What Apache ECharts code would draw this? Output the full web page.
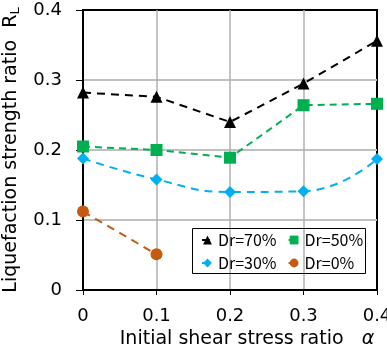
<!DOCTYPE html>
<html>
<head>
<meta charset="UTF-8">
<title>Liquefaction strength ratio</title>
<script src="https://cdn.jsdelivr.net/npm/echarts@6/dist/echarts.min.js"></script>
</head>
<body style="margin:0">
<div id="main" style="width:387px;height:358px;"></div>
<script>
// initial shear stress ratio alpha
var alphaVals = [0, 0.1, 0.2, 0.3, 0.4];
var alphaVals0 = [0, 0.1];

// liquefaction strength ratio RL for each relative density
var dr70 = [0.282, 0.276, 0.240, 0.295, 0.356];
var dr50 = [0.205, 0.200, 0.189, 0.264, 0.266];
var dr30 = [0.188, 0.158, 0.140, 0.141, 0.187];
var dr0 = [0.112, 0.051];

var seriesNames = ['Dr=70%', 'Dr=50%', 'Dr=30%', 'Dr=0%'];

function pairs(xs, ys) {
    return xs.map(function (x, i) { return [x, ys[i]]; });
}

// two legend rows, same look
function legendRow(top, names) {
    return {
        left: 201, top: top,
        padding: 0,
        itemGap: 11,
        itemWidth: 11, itemHeight: 11,
        textStyle: { fontFamily: 'Noto Sans CJK JP', fontSize: 16, color: '#000' },
        data: names
    };
}

var myChart = echarts.init(document.getElementById('main'));

var option = {
    animation: false,
    grid: {
        left: 83, right: 10, top: 10, bottom: 68,
        outerBoundsMode: 'none',
        show: true,
        borderColor: '#000',
        borderWidth: 2
    },
    legend: [
        legendRow(232, seriesNames.slice(0, 2)),
        legendRow(255, seriesNames.slice(2, 4))
    ],
    graphic: [{
        type: 'rect',
        z: 3,
        shape: { x: 192.5, y: 228.5, width: 173, height: 45 },
        style: { fill: 'none', stroke: '#000', lineWidth: 1 }
    }],
    xAxis: {
        type: 'value',
        min: 0, max: 0.4, interval: 0.1,
        name: '{t|Initial shear stress ratio   }{a|α}',
        nameLocation: 'middle',
        nameGap: 40,
        nameTextStyle: {
            padding: [0, 0, 0, 34],
            rich: {
                t: { fontFamily: 'DejaVu Sans', fontSize: 19, color: '#000' },
                a: { fontFamily: 'DejaVu Sans', fontSize: 19, fontStyle: 'italic', color: '#000' }
            }
        },
        axisLine: { lineStyle: { color: '#000', width: 2 } },
        axisTick: { show: true, length: 5, lineStyle: { color: '#000', width: 1 } },
        axisLabel: { margin: 17, fontFamily: 'DejaVu Sans', fontSize: 18, color: '#000' },
        splitLine: { show: true, showMinLine: false, showMaxLine: false, lineStyle: { color: '#b0b0b0', width: 1.5 } }
    },
    yAxis: {
        type: 'value',
        min: 0, max: 0.4, interval: 0.1,
        name: '{t|Liquefaction strength ratio  R}{s|L}',
        nameLocation: 'middle',
        nameGap: 50,
        nameTextStyle: {
            rich: {
                t: { fontFamily: 'DejaVu Sans', fontSize: 19, color: '#000' },
                s: { fontFamily: 'DejaVu Sans', fontSize: 13, color: '#000', verticalAlign: 'bottom', padding: [9, 0, 0, 0] }
            }
        },
        axisLine: { show: true, lineStyle: { color: '#000', width: 2 } },
        axisTick: { show: true, length: 7, lineStyle: { color: '#000', width: 1 } },
        axisLabel: { margin: 21, fontFamily: 'DejaVu Sans', fontSize: 18, color: '#000' },
        splitLine: { show: true, showMinLine: false, showMaxLine: false, lineStyle: { color: '#c0c0c0', width: 2 } }
    },
    series: [
        {
            name: seriesNames[0],
            type: 'line',
            symbol: 'triangle', symbolSize: 12,
            itemStyle: { color: '#000' },
            lineStyle: { color: '#000', width: 2, type: [8, 6] },
            data: pairs(alphaVals, dr70)
        },
        {
            name: seriesNames[1],
            type: 'line',
            symbol: 'rect', symbolSize: 12,
            itemStyle: { color: '#00b050' },
            lineStyle: { color: '#00b050', width: 2, type: [7, 5] },
            data: pairs(alphaVals, dr50)
        },
        {
            name: seriesNames[2],
            type: 'line',
            symbol: 'diamond', symbolSize: 12,
            smooth: 0.5,
            itemStyle: { color: '#00b0f0' },
            lineStyle: { color: '#00b0f0', width: 2, type: [8, 6] },
            data: pairs(alphaVals, dr30)
        },
        {
            name: seriesNames[3],
            type: 'line',
            symbol: 'circle', symbolSize: 12,
            itemStyle: { color: '#c55a11' },
            lineStyle: { color: '#c55a11', width: 2, type: [8, 6] },
            data: pairs(alphaVals0, dr0)
        }
    ]
};

myChart.setOption(option);
</script>
</body>
</html>
